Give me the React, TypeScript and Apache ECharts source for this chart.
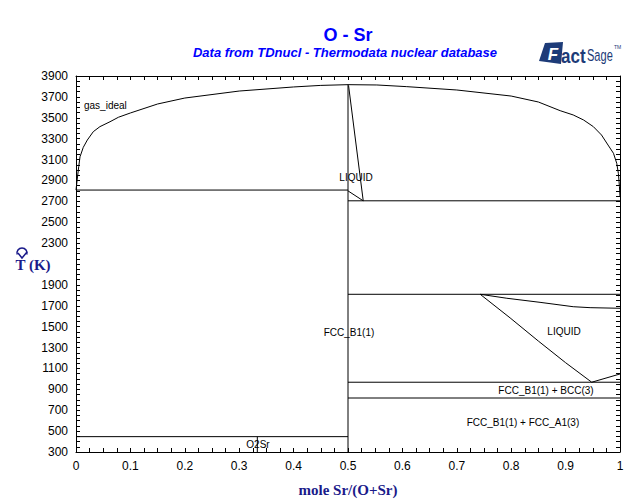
import React, { useEffect, useRef } from "react";
import * as echarts from "echarts";

// ---- tick labels (the reference leaves out 2100, where the axis title sits) ----
const xTickLabels = [0, 0.1, 0.2, 0.3, 0.4, 0.5, 0.6, 0.7, 0.8, 0.9, 1];
const yTickLabels = [300, 500, 700, 900, 1100, 1300, 1500, 1700, 1900, 2300, 2500, 2700, 2900, 3100, 3300, 3500, 3700, 3900];

// ---- phase boundaries (x = mole Sr/(O+Sr), T in K) ----
const gasIdealLeft = [
  [0, 2808], [0.002, 2900], [0.005, 3032], [0.0074, 3127], [0.0134, 3217], [0.0208, 3287],
  [0.0318, 3367], [0.044, 3415], [0.0625, 3462], [0.078, 3505], [0.1, 3546], [0.15, 3632],
  [0.2, 3689], [0.3, 3756], [0.4, 3795], [0.45, 3810], [0.5, 3817],
];
const gasIdealRight = [
  [0.5, 3817], [0.553, 3814], [0.608, 3798], [0.7, 3766], [0.8, 3708], [0.85, 3651],
  [0.89, 3568], [0.914, 3527], [0.933, 3479], [0.951, 3415], [0.966, 3335], [0.978, 3239],
  [0.988, 3160], [0.994, 3064], [0.997, 2968], [0.999, 2840], [1, 2745],
];
const liquidusSrO = [[0.501, 3810], [0.528, 2705]];
const solidusSrO = [[0.5, 2800], [0.528, 2705]];
const srOLine = [[0.5, 300], [0.5, 3817]];
const o2SrLine = [[0.3333, 300], [0.3333, 447]];
const srOMelting = [[0, 2808], [0.5, 2808]];
const monotecticHigh = [[0.5, 2705], [1, 2705]];
const monotecticLow = [[0.5, 1810], [1, 1810]];
const eutectic = [[0.5, 968], [1, 968]];
const bccFcc = [[0.5, 817], [1, 817]];
const o2SrDecomp = [[0, 447], [0.5, 447]];
const liquidGap = [[0.743, 1810], [0.792, 1772], [0.853, 1733], [0.914, 1691], [0.945, 1682], [1, 1676]];
const liquidusFcc = [[0.743, 1810], [0.798, 1584], [0.85, 1362], [0.9, 1155], [0.948, 968]];
const liquidusBcc = [[0.948, 968], [1, 1047]];

const boundaries = [
  gasIdealLeft, gasIdealRight, liquidusSrO, solidusSrO, srOLine, o2SrLine, srOMelting,
  monotecticHigh, monotecticLow, eutectic, bccFcc, o2SrDecomp, liquidGap, liquidusFcc, liquidusBcc,
];

const xTickPositions = Array.from({ length: 41 }, (_, i) => Math.round(i * 25) / 1000);
const yTickPositions = Array.from({ length: 73 }, (_, i) => 300 + i * 50);

const NAVY = "#1a1a8a";
const BLUE = "#0000ff";
const LOGO = "#1d3b78";

function txt(text: string, x: number, y: number, font: string, fill: string, align = "center", scaleX = 1) {
  return {
    type: "text",
    silent: true,
    x,
    y,
    scaleX,
    style: { text, x: 0, y: 0, font, fill, textAlign: align, textVerticalAlign: "middle", align, verticalAlign: "middle" },
  };
}

export default function App() {
  const ref = useRef<HTMLDivElement>(null);
  useEffect(() => {
    if (!ref.current) return;
    const chart = echarts.init(ref.current, null, { renderer: "svg" });
    const tickFont = { fontSize: 12, fontFamily: "Liberation Sans, Arial, sans-serif", color: "#000" };
    const axisCommon = {
      axisLine: { show: true, onZero: false, lineStyle: { color: "#000", width: 1 } },
      splitLine: { show: false },
      minorTick: { show: false },
    };
    const regionFont = "10px Liberation Sans, Arial, sans-serif";
    chart.setOption({
      animation: false,
      backgroundColor: "#fff",
      grid: { left: 76, top: 76, width: 544, height: 376, containLabel: false },
      xAxis: [
        {
          type: "value", min: 0, max: 1, position: "bottom", ...axisCommon,
          axisTick: { show: true, inside: true, length: 4, customValues: xTickPositions, lineStyle: { color: "#000" } },
          axisLabel: { show: true, customValues: xTickLabels, margin: 8, formatter: (v: number) => String(v), ...tickFont },
        },
        {
          type: "value", min: 0, max: 1, position: "top", ...axisCommon,
          axisTick: { show: true, inside: true, length: 4, customValues: xTickPositions, lineStyle: { color: "#000" } },
          axisLabel: { show: false },
        },
      ],
      yAxis: [
        {
          type: "value", min: 300, max: 3900, position: "left", ...axisCommon,
          axisTick: { show: true, inside: true, length: 4, customValues: yTickPositions, lineStyle: { color: "#000" } },
          axisLabel: { show: true, customValues: yTickLabels, margin: 8, formatter: (v: number) => String(v), ...tickFont },
        },
        {
          type: "value", min: 300, max: 3900, position: "right", ...axisCommon,
          axisTick: { show: true, inside: true, length: 4, customValues: yTickPositions, lineStyle: { color: "#000" } },
          axisLabel: { show: false },
        },
      ],
      series: boundaries.map((d) => ({
        type: "line",
        data: d,
        xAxisIndex: 0,
        yAxisIndex: 0,
        symbol: "none",
        showSymbol: false,
        silent: true,
        lineStyle: { color: "#000", width: 1 },
      })),
      graphic: [
        txt("O - Sr", 348, 35, "bold 18px Liberation Sans, Arial, sans-serif", BLUE),
        txt("Data from TDnucl - Thermodata nuclear database", 345, 52, "italic bold 13px Liberation Sans, Arial, sans-serif", BLUE),
        txt("T (K)", 33, 265, "bold 15px Liberation Serif, Times New Roman, serif", NAVY),
        txt("mole Sr/(O+Sr)", 348, 490, "bold 15px Liberation Serif, Times New Roman, serif", NAVY),
        // region labels
        txt("gas_ideal", 84, 105, regionFont, "#000", "left"),
        txt("LIQUID", 356, 177, regionFont, "#000"),
        txt("FCC_B1(1)", 349, 332, regionFont, "#000"),
        txt("LIQUID", 564, 331, regionFont, "#000"),
        txt("FCC_B1(1) + BCC(3)", 546, 390, regionFont, "#000"),
        txt("FCC_B1(1) + FCC_A1(3)", 523, 422, regionFont, "#000"),
        txt("O2Sr", 258, 444, regionFont, "#000"),
        // FactSage logo
        {
          type: "polygon",
          silent: true,
          shape: { points: [[545, 43], [563, 42], [561, 64], [539, 61], [542, 52]] },
          style: { fill: LOGO },
        },
        txt("F", 553, 54, "italic bold 17px Liberation Sans, Arial, sans-serif", "#fff"),
        txt("act", 561, 56, "bold 20px Liberation Sans, Arial, sans-serif", LOGO, "left", 0.85),
        txt("Sage", 587, 55, "17px Liberation Sans, Arial, sans-serif", LOGO, "left", 0.65),
        txt("TM", 614, 47, "5px Liberation Sans, Arial, sans-serif", LOGO, "left"),
        // small icon near the T axis title
        {
          type: "arc",
          silent: true,
          shape: { cx: 22, cy: 253, r: 5, startAngle: Math.PI * 0.9, endAngle: Math.PI * 2.1 },
          style: { stroke: NAVY, lineWidth: 1.5, fill: "none" },
        },
        {
          type: "polyline",
          silent: true,
          shape: { points: [[18, 253], [22, 258], [27, 252]] },
          style: { stroke: NAVY, lineWidth: 1.5, fill: "none" },
        },
      ],
    });
    return () => chart.dispose();
  }, []);
  return <div ref={ref} style={{ position: "fixed", left: 0, top: 0, width: 640, height: 504 }} />;
}
